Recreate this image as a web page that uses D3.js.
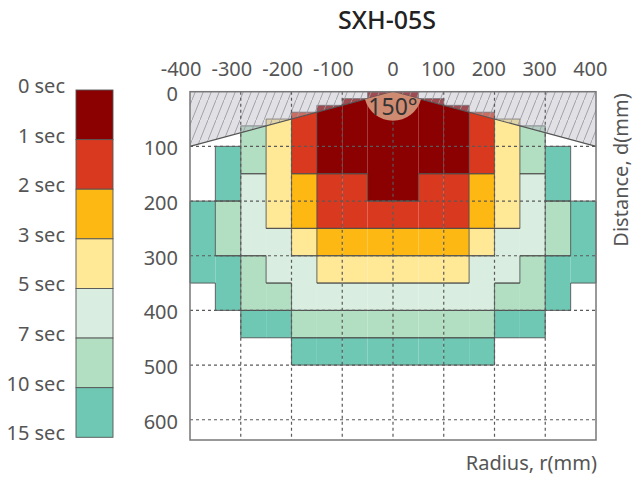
<!DOCTYPE html>
<html><head><meta charset="utf-8">
<script src="https://cdn.jsdelivr.net/npm/d3@7"></script>
<style>body{margin:0;background:#fff}svg{display:block}text{font-family:"Noto Sans",sans-serif}</style>
</head><body>
<svg id="c" width="633" height="477"></svg>
<script>
// ---- data ----
const title = "SXH-05S";
const legendLabels = ["0 sec","1 sec","2 sec","3 sec","5 sec","7 sec","10 sec","15 sec"];
const levelColors = ["#8b0000","#d93a1f","#fdb813","#ffe896","#d9ede0","#b2dfc2","#6ec8b4"];
const xTicks = [-400,-300,-200,-100,0,100,200,300,400];
const yTicks = [0,100,200,300,400,500,600];
const coneAngle = "150°";
const coneEdge = [[-400,100],[0,0],[400,100]];
// column left edges (mm, radius) and segments [fromDepth, toDepth, level]
const colEdges = [-400,-350,-300,-250,-200,-150,-100,-50,0,50,100,150,200,250,300,350];
const colWidth = 50;
const columns = [
  [[200,350,6]],
  [[100,200,6],[200,300,5],[300,400,6]],
  [[62.5,150,5],[150,300,4],[300,400,5],[400,450,6]],
  [[50,250,3],[250,350,4],[350,400,5],[400,450,6]],
  [[37.5,150,1],[150,250,2],[250,300,3],[300,400,4],[400,450,5],[450,500,6]],
  [[25,150,0],[150,250,1],[250,300,2],[300,350,3],[350,400,4],[400,450,5],[450,500,6]],
  [[12.5,150,0],[150,250,1],[250,300,2],[300,350,3],[350,400,4],[400,450,5],[450,500,6]],
  [[0,200,0],[200,250,1],[250,300,2],[300,350,3],[350,400,4],[400,450,5],[450,500,6]],
  [[0,200,0],[200,250,1],[250,300,2],[300,350,3],[350,400,4],[400,450,5],[450,500,6]],
  [[12.5,150,0],[150,250,1],[250,300,2],[300,350,3],[350,400,4],[400,450,5],[450,500,6]],
  [[25,150,0],[150,250,1],[250,300,2],[300,350,3],[350,400,4],[400,450,5],[450,500,6]],
  [[37.5,150,1],[150,250,2],[250,300,3],[300,400,4],[400,450,5],[450,500,6]],
  [[50,250,3],[250,350,4],[350,400,5],[400,450,6]],
  [[62.5,150,5],[150,300,4],[300,400,5],[400,450,6]],
  [[100,200,6],[200,300,5],[300,400,6]],
  [[200,350,6]]
];

// ---- drawing ----
const svg = d3.select("#c");
const x = d3.scaleLinear([-400,400],[190,596]);
const y = d3.scaleLinear([0,637],[91.7,440]);

const defs = svg.append("defs");
const pat = defs.append("pattern").attr("id","hatch").attr("patternUnits","userSpaceOnUse")
  .attr("width",8).attr("height",20);
pat.append("rect").attr("width",8).attr("height",20).attr("fill","rgba(180,182,192,0.42)");
pat.append("line").attr("x1",0).attr("y1",20).attr("x2",8).attr("y2",0)
  .attr("stroke","#9a9aa2").attr("stroke-width",0.9);

const cells = [];
columns.forEach((segs,i)=>segs.forEach(s=>cells.push({r0:colEdges[i],r1:colEdges[i]+colWidth,d0:s[0],d1:s[1],lv:s[2]})));

svg.append("g").selectAll("rect").data(cells).join("rect")
  .attr("x",d=>x(d.r0)).attr("y",d=>y(d.d0))
  .attr("width",d=>x(d.r1)-x(d.r0)).attr("height",d=>y(d.d1)-y(d.d0))
  .attr("fill",d=>levelColors[d.lv]);

// region borders
const edges = [];
cells.forEach(c=>{
  edges.push([c.r0,c.d0,c.r1,c.d0]);
  edges.push([c.r0,c.d1,c.r1,c.d1]);
});
function levelAt(ci,d){
  if(ci<0||ci>=columns.length) return -1;
  for(const s of columns[ci]) if(d>s[0]&&d<s[1]) return s[2];
  return -1;
}
for(let i=0;i<=columns.length;i++){
  const ex = i<columns.length ? colEdges[i] : colEdges[i-1]+colWidth;
  const bps = new Set();
  [i-1,i].forEach(ci=>{ if(ci>=0&&ci<columns.length) columns[ci].forEach(s=>{bps.add(s[0]);bps.add(s[1]);}); });
  const arr = Array.from(bps).sort((a,b)=>a-b);
  for(let k=0;k<arr.length-1;k++){
    const m=(arr[k]+arr[k+1])/2;
    if(levelAt(i-1,m)!==levelAt(i,m)) edges.push([ex,arr[k],ex,arr[k+1]]);
  }
}
svg.append("g").selectAll("line").data(edges).join("line")
  .attr("x1",d=>x(d[0])).attr("y1",d=>y(d[1])).attr("x2",d=>x(d[2])).attr("y2",d=>y(d[3]))
  .attr("stroke","#4a4a4a").attr("stroke-opacity",0.75).attr("stroke-width",1.1);

// hatched dead zone
const poly = [[-400,0],[400,0],[400,100],[0,0],[-400,100]];
svg.append("path").attr("d",d3.line().x(p=>x(p[0])).y(p=>y(p[1]))(poly)+"Z")
  .attr("fill","url(#hatch)");

// grid
const gg = svg.append("g").attr("stroke","#5a5a5a").attr("stroke-width",1.2).attr("stroke-dasharray","3,3");
xTicks.slice(1,-1).forEach(t=>gg.append("line").attr("x1",x(t)).attr("x2",x(t)).attr("y1",y(0)).attr("y2",y(637)));
yTicks.slice(1).forEach(t=>gg.append("line").attr("x1",x(-400)).attr("x2",x(400)).attr("y1",y(t)).attr("y2",y(t)));

// cone lines
svg.append("path").attr("d",d3.line().x(p=>x(p[0])).y(p=>y(p[1]))(coneEdge))
  .attr("fill","none").attr("stroke","#555").attr("stroke-width",1.1);

// sector
const dx = x(400)-x(0), dy = y(100)-y(0);
const half = Math.atan2(dx,dy);
svg.append("path").attr("transform",`translate(${x(0)},${y(0)})`)
  .attr("d",d3.arc()({innerRadius:0,outerRadius:29,startAngle:Math.PI-half,endAngle:Math.PI+half}))
  .attr("fill","#cf8a72");
svg.append("text").attr("x",x(0)).attr("y",y(0)+23).attr("text-anchor","middle")
  .attr("font-size",23).attr("fill","#333").text(coneAngle);

// border
svg.append("rect").attr("x",x(-400)).attr("y",y(0)).attr("width",x(400)-x(-400)).attr("height",y(637)-y(0))
  .attr("fill","none").attr("stroke","#777").attr("stroke-width",1.5);

// axes labels
svg.append("g").selectAll("text").data(xTicks).join("text")
  .attr("x",d=>d===0?x(d):x(d)+11.5).attr("y",76)
  .attr("text-anchor",d=>d===0?"middle":"end")
  .attr("font-size",20).attr("fill","#555").text(d=>d);
svg.append("g").selectAll("text").data(yTicks).join("text")
  .attr("x",178).attr("y",d=>y(d)+9)
  .attr("text-anchor","end").attr("font-size",20).attr("fill","#555").text(d=>d);

svg.append("text").attr("x",387).attr("y",29).attr("text-anchor","middle")
  .attr("font-size",25).attr("font-weight",500).attr("fill","#222").text(title);
svg.append("text").attr("transform","translate(628,170) rotate(-90)").attr("text-anchor","middle")
  .attr("font-size",20).attr("fill","#555").text("Distance, d(mm)");
svg.append("text").attr("x",597).attr("y",470).attr("text-anchor","end")
  .attr("font-size",20).attr("fill","#555").text("Radius, r(mm)");

// legend
const ly = d3.scaleLinear([0,7],[90,437.3]);
const lg = svg.append("g");
lg.selectAll("rect").data(levelColors).join("rect")
  .attr("x",76).attr("width",37).attr("y",(d,i)=>ly(i)).attr("height",(d,i)=>ly(i+1)-ly(i))
  .attr("fill",d=>d).attr("stroke","#555").attr("stroke-width",0.9);
lg.selectAll("text").data(legendLabels).join("text")
  .attr("x",65).attr("y",(d,i)=>ly(i)+3).attr("text-anchor","end")
  .attr("font-size",20).attr("fill","#555").text(d=>d);
</script>
</body></html>
